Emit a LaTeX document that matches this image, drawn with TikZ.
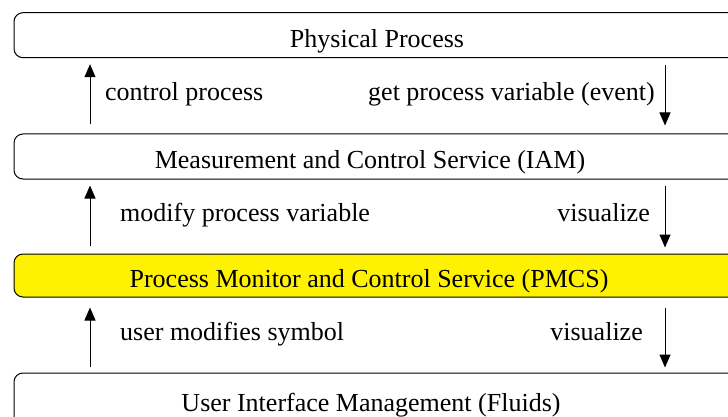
\documentclass[tikz,border=0pt]{standalone}
\usepackage{fontspec}
\setmainfont{Liberation Serif}
\usetikzlibrary{arrows.meta}
\begin{document}
\begin{tikzpicture}[x=1pt,y=-1pt,
  layer/.style={draw=black, line width=1pt, rounded corners=9pt,
    minimum width=726pt, inner sep=0pt},
  lbl/.style={inner sep=0pt, font=\fontsize{26}{30}\selectfont},
  flow/.style={line width=1pt, -{Triangle[length=13pt,width=11pt]}}]
  \useasboundingbox (0,0) rectangle (728,417);
  \clip (0,0) rectangle (728,417);

  % service layers, top to bottom
  \node[layer, minimum height=45pt] (phys) at (377,35.2) {};
  \node[lbl, anchor=base] at (377,48) {Physical Process};
  \node[layer, minimum height=45pt] (mcs) at (377,156.5) {};
  \node[lbl, anchor=base] at (370,168) {Measurement and Control Service (IAM)};
  \node[layer, minimum height=43pt, fill=yellow] (pmcs) at (377,275.5) {};
  \node[lbl, anchor=base] at (369,287) {Process Monitor and Control Service (PMCS)};
  \node[layer, minimum height=52pt] (ui) at (377,399) {};
  \node[lbl, anchor=base] at (371,411) {User Interface Management (Fluids)};

  % arrow columns
  \coordinate (L) at (90,0);
  \coordinate (R) at (665,0);

  % upward requests
  \draw[flow, shorten <=9pt, shorten >=6pt] (mcs.north -| L) -- (phys.south -| L);
  \draw[flow, shorten <=8pt, shorten >=6pt] (pmcs.north -| L) -- (mcs.south -| L);
  \draw[flow, shorten <=6pt, shorten >=10pt] (ui.north -| L) -- (pmcs.south -| L);

  % downward notifications
  \draw[flow, shorten <=7pt, shorten >=8pt] (phys.south -| R) -- (mcs.north -| R);
  \draw[flow, shorten <=6pt, shorten >=6pt] (mcs.south -| R) -- (pmcs.north -| R);
  \draw[flow, shorten <=10pt, shorten >=5pt] (pmcs.south -| R) -- (ui.north -| R);

  % arrow labels
  \node[lbl, anchor=base west] (l1) at (105,101) {control process};
  \node[lbl, anchor=base east] (r1) at (655,101) {get process variable (event)};
  \node[lbl, anchor=base west] (l2) at (120,221) {modify process variable};
  \node[lbl, anchor=base east] (r2) at (650,221) {visualize};
  \node[lbl, anchor=base west] (l3) at (120,340) {user modifies symbol};
  \node[lbl, anchor=base east] (r3) at (643,340) {visualize};
\end{tikzpicture}
\end{document}
